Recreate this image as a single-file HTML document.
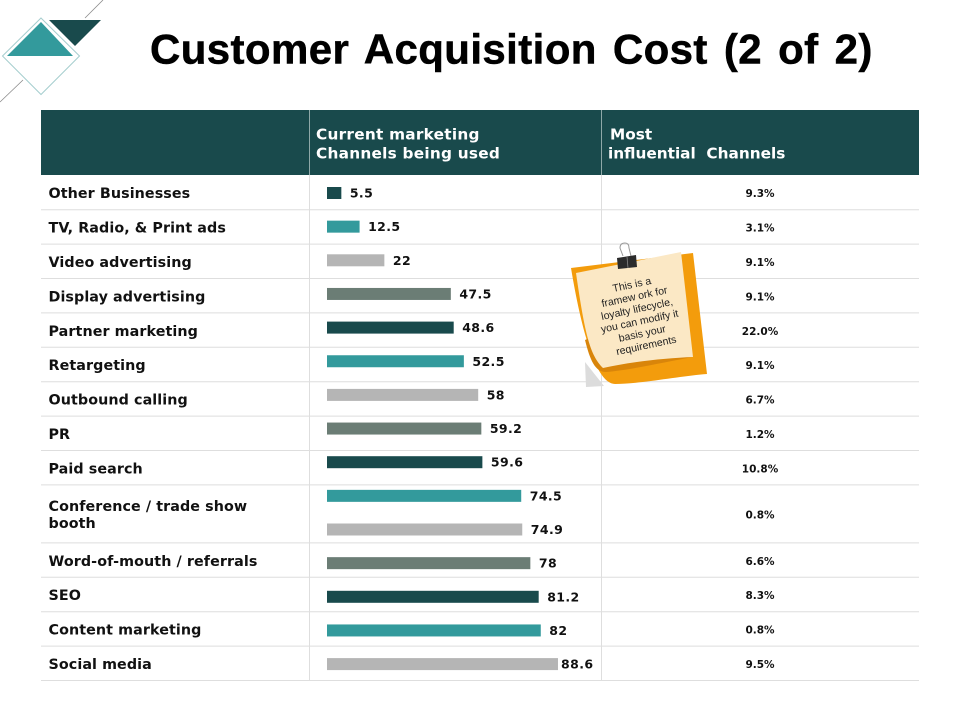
<!DOCTYPE html>
<html lang="en">
<head>
<meta charset="utf-8">
<title>Customer Acquisition Cost (2 of 2)</title>
<style>
html,body{margin:0;padding:0;background:#fff;width:960px;height:720px;overflow:hidden}
svg{display:block}
.v{font-family:"DejaVu Sans",sans-serif;font-weight:700}
.l{font-family:"Liberation Sans",sans-serif}
</style>
</head>
<body>
<svg id="chart" xmlns="http://www.w3.org/2000/svg" width="960" height="720" viewBox="0 0 960 720">
  <g>
    <line x1="0" y1="102" x2="23" y2="80" stroke="#8a8a8a" stroke-width="0.8"/>
    <line x1="85" y1="18" x2="103" y2="0" stroke="#8a8a8a" stroke-width="0.8"/>
    <polygon points="49,20 101,20 75,46" fill="#194a4c"/>
    <polygon points="41,18 79.500,56 41,94.500 2.500,56" fill="#fff" stroke="#a5cdce" stroke-width="1"/>
    <polygon points="41,22 73,56 7,56" fill="#339a9c"/>
  </g>
  <text class="l" x="150" y="63.500" font-size="42" font-weight="700" letter-spacing="0.4" word-spacing="4" stroke="#000" stroke-width="0.5" fill="#000">Customer Acquisition Cost (2 of 2)</text>

  <g>
    <rect x="41" y="110" width="878" height="65" fill="#194a4c"/>
    <line x1="309.500" y1="110" x2="309.500" y2="175" stroke="#8fa8a8" stroke-width="1"/>
    <line x1="601.500" y1="110" x2="601.500" y2="175" stroke="#8fa8a8" stroke-width="1"/>
    <text class="v" fill="#fff" font-size="15.300" letter-spacing="0.25">
      <tspan x="316" y="139.500">Current marketing</tspan>
      <tspan x="316" y="158.500">Channels being used</tspan>
    </text>
    <text class="v" fill="#fff" font-size="15.300">
      <tspan x="610" y="139.500">Most</tspan>
      <tspan x="608" y="158.500" xml:space="preserve">influential  Channels</tspan>
    </text>
  </g>

  <g id="grid"></g>
  <g id="labels"></g>
  <g id="bars"></g>
  <g id="shares"></g>

  <g>
    <polygon points="585,362 604,386 586,387" fill="#dcdcdc"/>
    <path d="M571,268 L693,253 L707,374 C680,376 640,384 615,384 C598,384 583,340 571,268 Z" fill="#f39c0c"/>
    <path d="M585,340 C590,360 595,372 606,372 C630,370 665,362 693,357 L681,300 Z" fill="#d9850a"/>
    <path d="M576,273 L681,252 L693,357 C665,358 630,362 603,368 C590,355 585,335 576,273 Z" fill="#fbe8c5"/>
    <g>
      <path d="M623,256 L620,248 Q620,243 625,243 Q629,243 629,248 L631,256" fill="none" stroke="#9a9a9a" stroke-width="1"/>
      <polygon points="617,258 636,255 637,267 618,269" fill="#2b2b2b"/>
      <line x1="627" y1="257" x2="628" y2="268" stroke="#888" stroke-width="0.8"/>
    </g>
    <text class="l" font-size="10.500" fill="#222" text-anchor="middle" transform="rotate(-12 640 316)">
      <tspan x="640" y="287">This is a</tspan>
      <tspan x="640" y="299.500">framew ork for</tspan>
      <tspan x="640" y="312">loyalty lifecycle,</tspan>
      <tspan x="640" y="324.500">you can modify it</tspan>
      <tspan x="640" y="337">basis your</tspan>
      <tspan x="640" y="349.500">requirements</tspan>
    </text>
  </g>
</svg>
<script>
var channels = ["Other Businesses","TV, Radio, & Print ads","Video advertising","Display advertising","Partner marketing","Retargeting","Outbound calling","PR","Paid search","Conference / trade show|booth","Word-of-mouth / referrals","SEO","Content marketing","Social media"];
var influentialShare = ["9.3%","3.1%","9.1%","9.1%","22.0%","9.1%","6.7%","1.2%","10.8%","0.8%","6.6%","8.3%","0.8%","9.5%"];
var barValues = [5.5,12.5,22,47.5,48.6,52.5,58,59.2,59.6,74.5,74.9,78,81.2,82,88.6];
var barColors = ["#194a4c","#339a9c","#b5b5b5","#6b7d75"];

var NS = "http://www.w3.org/2000/svg";
function mk(tag, attrs, parent, txt) {
  var e = document.createElementNS(NS, tag);
  for (var k in attrs) e.setAttribute(k, attrs[k]);
  if (txt !== undefined) e.textContent = txt;
  parent.appendChild(e);
  return e;
}
// axis functions
var X0 = 327, PX_PER_UNIT = 2.607;
function xScale(v) { return X0 + v * PX_PER_UNIT; }
var BAR_TOP = 193, BAR_STEP = 33.65;
function yBar(i) { return BAR_TOP + i * BAR_STEP; }
var ROW_TOP = 175.3, ROW_H = 34.4, TALL_ROW = 9, TALL_H = 58;
function rowEdge(i) {
  var y = ROW_TOP + i * ROW_H;
  if (i > TALL_ROW) y += TALL_H - ROW_H;
  return y;
}

var grid = document.getElementById("grid");
var labels = document.getElementById("labels");
var bars = document.getElementById("bars");
var shares = document.getElementById("shares");

for (var i = 1; i <= channels.length; i++) {
  var ln = mk("line", {x1:41, x2:919, y1:rowEdge(i), y2:rowEdge(i), stroke:"#dedede", "stroke-width":1}, grid);
  
  
}
[309.5, 601.5].forEach(function (x) {
  var c = mk("line", {x1:x, x2:x, y1:175, y2:rowEdge(channels.length), stroke:"#dedede", "stroke-width":1}, grid);
  
  
});

channels.forEach(function (name, i) {
  var mid = (rowEdge(i) + rowEdge(i + 1)) / 2;
  var parts = name.split("|");
  parts.forEach(function (p, j) {
    var y = mid + 5.7 + (parts.length > 1 ? (j === 0 ? -8.5 : 8.5) : 0);
    var t = mk("text", {x:48.5, y:y, "class":"v", "font-size":14.3, "letter-spacing":0.08, fill:"#111"}, labels, p);
    
    
  });
  var s = mk("text", {x:760, y:mid + 4.7, "class":"v", "font-size":10.5, fill:"#111", "text-anchor":"middle"}, shares, influentialShare[i]);
  
  
});

barValues.forEach(function (v, i) {
  var y = yBar(i), x = xScale(v);
  var r = mk("rect", {x:X0, y:y - 6, width:x - X0, height:12, fill:barColors[i % barColors.length]}, bars);
  
  
  var t = mk("text", {x:Math.min(x + 8.5, 561), y:y + 4.5, "class":"v", "font-size":12.5, "letter-spacing":0.4, fill:"#111"}, bars, String(v));
  
  
});
</script>
</body>
</html>
